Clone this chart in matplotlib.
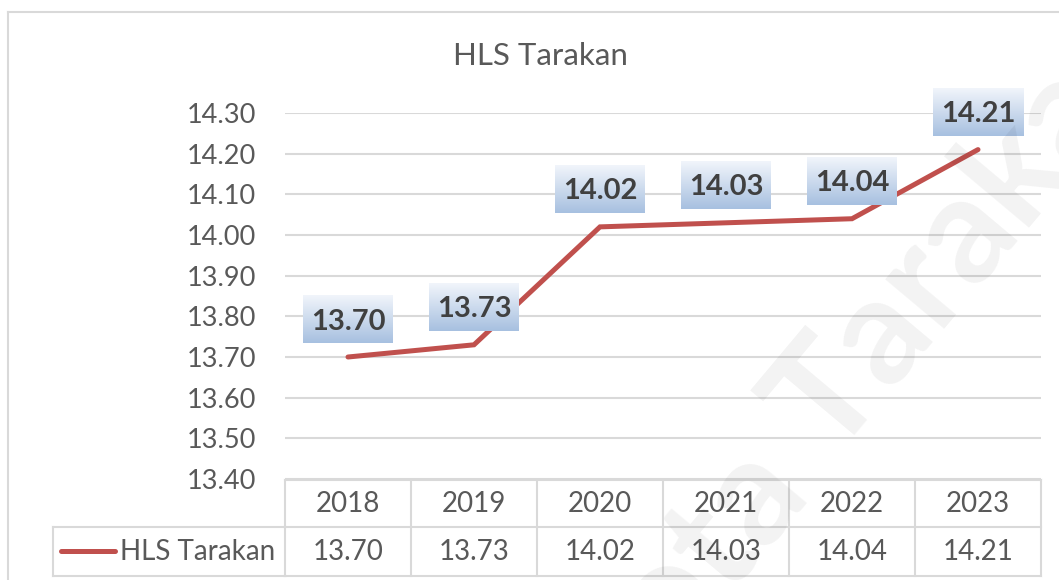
import matplotlib
matplotlib.use('Agg')
import matplotlib.pyplot as plt
import numpy as np
from matplotlib.transforms import blended_transform_factory
from matplotlib.lines import Line2D

# ---- data ----
years = ['2018', '2019', '2020', '2021', '2022', '2023']
values = [13.70, 13.73, 14.02, 14.03, 14.04, 14.21]
series_name = 'HLS Tarakan'
title = 'HLS Tarakan'
y_ticks = [13.40, 13.50, 13.60, 13.70, 13.80, 13.90, 14.00, 14.10, 14.20, 14.30]
watermark_words = ['Kota', 'Tarakan']

W, H = 1059, 580
plt.rcParams['font.family'] = ['Lato', 'DejaVu Sans']
fig = plt.figure(figsize=(W / 100, H / 100), dpi=100)


def fx(px):
    return px / W


def fy(py):
    return 1 - py / H


GRID = '#d9d9d9'
TXT = '#595959'
RED = '#c0504d'

ax = fig.add_axes([fx(285), fy(479), (1041 - 285) / W, (479 - 113) / H])
x = np.arange(len(years))
ax.set_xlim(-0.5, len(years) - 0.5)
ax.set_ylim(y_ticks[0], y_ticks[-1])
ax.set_yticks(y_ticks)
ax.set_yticklabels([f'{t:.2f}' for t in y_ticks])
ax.tick_params(axis='y', length=0, pad=21, labelsize=19.5, labelcolor=TXT)
ax.set_xticks([])
for s in ax.spines.values():
    s.set_visible(False)
ax.grid(axis='y', color=GRID, linewidth=1.5)
ax.set_axisbelow(True)
ax.patch.set_alpha(0)

ax.plot(x, values, color=RED, lw=3.6, solid_capstyle='round',
        solid_joinstyle='miter', zorder=3)

# ---- data labels with gradient boxes ----
n = 64
t = np.linspace(0, 1, n)[:, None, None]
top_c = np.array([0.945, 0.960, 0.984])
bot_c = np.array([0.655, 0.753, 0.878])
grad = top_c + (bot_c - top_c) * t
inv = ax.transData.inverted()
for i, v in enumerate(values):
    px, py = ax.transData.transform((i, v))
    (dx0, dy0) = inv.transform((px - 45, py + 14))
    (dx1, dy1) = inv.transform((px + 45, py + 62))
    im = ax.imshow(grad, extent=[dx0, dx1, dy0, dy1], aspect='auto',
                   interpolation='bilinear', zorder=4)
    im.set_clip_on(False)
    ax.text(i, (dy0 + dy1) / 2, f'{v:.2f}', ha='center', va='center_baseline',
            fontsize=21, fontweight='bold', color='#404040', zorder=5,
            clip_on=False)
ax.set_xlim(-0.5, len(years) - 0.5)
ax.set_ylim(y_ticks[0], y_ticks[-1])

# ---- title ----
fig.text(fx(540), fy(56), title, ha='center', va='center', fontsize=22.5, color=TXT)

# ---- data table ----
bt = blended_transform_factory(ax.transData, fig.transFigure)
lk = dict(color=GRID, lw=1.5)
fig.add_artist(Line2D([-0.5, len(years) - 0.5], [fy(480)] * 2, transform=bt, **lk))
for yy in (527, 576):
    fig.add_artist(Line2D([-0.5, len(years) - 0.5], [fy(yy)] * 2, transform=bt, **lk))
    fig.add_artist(Line2D([fx(53), fx(285)], [fy(yy)] * 2, **lk))
for i in range(len(years) + 1):
    fig.add_artist(Line2D([i - 0.5, i - 0.5], [fy(480), fy(576)], transform=bt, **lk))
fig.add_artist(Line2D([fx(53), fx(53)], [fy(527), fy(576)], **lk))
for i, (yr, v) in enumerate(zip(years, values)):
    fig.text(i, fy(504), yr, transform=bt, ha='center', va='center',
             fontsize=20, color=TXT)
    fig.text(i, fy(552), f'{v:.2f}', transform=bt, ha='center', va='center',
             fontsize=20, color=TXT)
fig.add_artist(Line2D([fx(61), fx(115)], [fy(551)] * 2, color=RED, lw=3.6,
                      solid_capstyle='round'))
fig.text(fx(120), fy(552), series_name, ha='left', va='center', fontsize=20, color=TXT)

# ---- chart border ----
fig.add_artist(Line2D([fx(8), 1], [fy(12)] * 2, **lk))
fig.add_artist(Line2D([fx(8), fx(8)], [fy(12), 0], **lk))

# ---- watermark ----
wm = dict(rotation=50, rotation_mode='anchor', va='baseline', fontsize=108,
          fontweight='bold', color='black', alpha=0.05, zorder=10)
fig.text(fx(832), fy(460), watermark_words[1], ha='left', **wm)
fig.text(fx(809), fy(487), watermark_words[0], ha='right', **wm)

fig.savefig('out.png', dpi=100)
